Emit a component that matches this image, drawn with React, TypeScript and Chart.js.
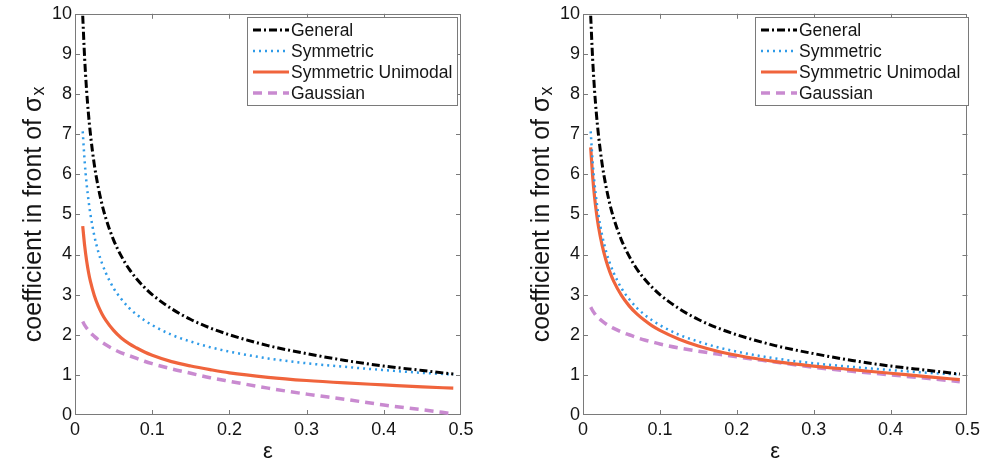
import React, { useEffect, useRef } from "react";
import { Chart, registerables } from "chart.js";

Chart.register(...registerables);

// ---------- data ----------
const EPS = [
  0.01, 0.0125, 0.015, 0.0175, 0.02, 0.025, 0.03, 0.035, 0.04, 0.05, 0.06, 0.07,
  0.08, 0.09, 0.1, 0.125, 0.15, 0.175, 0.2, 0.25, 0.3, 0.35, 0.4, 0.45, 0.49,
];
const GENERAL = [
  9.95, 8.89, 8.1, 7.49, 7.0, 6.24, 5.69, 5.25, 4.9, 4.36, 3.96, 3.64, 3.39,
  3.18, 3.0, 2.65, 2.38, 2.17, 2.0, 1.73, 1.53, 1.36, 1.22, 1.11, 1.02,
];
const SYMMETRIC = [
  7.07, 6.32, 5.77, 5.35, 5.0, 4.47, 4.08, 3.78, 3.54, 3.16, 2.89, 2.67, 2.5,
  2.36, 2.24, 2.0, 1.83, 1.69, 1.58, 1.41, 1.29, 1.2, 1.12, 1.05, 1.01,
];
const UNIMODAL_LEFT = [
  4.71, 4.22, 3.85, 3.56, 3.33, 2.98, 2.72, 2.52, 2.36, 2.11, 1.92, 1.78, 1.67,
  1.57, 1.49, 1.33, 1.22, 1.13, 1.05, 0.94, 0.86, 0.8, 0.75, 0.7, 0.67,
];
const GAUSSIAN_LEFT = [
  2.33, 2.24, 2.17, 2.11, 2.05, 1.96, 1.88, 1.81, 1.75, 1.64, 1.55, 1.48, 1.41,
  1.34, 1.28, 1.15, 1.04, 0.93, 0.84, 0.67, 0.52, 0.39, 0.25, 0.13, 0.03,
];
const UNIMODAL_RIGHT = [
  6.67, 5.96, 5.44, 5.04, 4.71, 4.22, 3.85, 3.56, 3.33, 2.98, 2.72, 2.52, 2.36,
  2.22, 2.11, 1.89, 1.72, 1.59, 1.49, 1.33, 1.22, 1.13, 1.04, 0.95, 0.88,
];
const GAUSSIAN_RIGHT = [
  2.69, 2.6, 2.53, 2.47, 2.42, 2.34, 2.27, 2.21, 2.16, 2.07, 2.0, 1.93, 1.87,
  1.82, 1.77, 1.67, 1.59, 1.52, 1.45, 1.32, 1.19, 1.09, 1.0, 0.91, 0.83,
];
const SERIES_NAMES = ["General", "Symmetric", "Symmetric Unimodal", "Gaussian"];
const X_TICKS = [0, 0.1, 0.2, 0.3, 0.4, 0.5];
const Y_TICKS = [0, 1, 2, 3, 4, 5, 6, 7, 8, 9, 10];
const X_TITLE = "ε";
const Y_TITLE = "coefficient in front of σ";
const Y_TITLE_SUB = "x";

// ---------- styles ----------
const FONT = '"Liberation Sans", Arial, Helvetica, sans-serif';
const FRAME = "#7a7a7a";
const TEXT = "#151515";
const STYLES = [
  { color: "#000000", width: 3, dash: [8, 3, 2, 3] },
  { color: "#2f9be8", width: 2.5, dash: [2, 4] },
  { color: "#f0643c", width: 3.2, dash: [] as number[] },
  { color: "#c98ad0", width: 3.5, dash: [9, 6] },
];

const H = 463;
const PLOT_TOP = 13;
const PLOT_BOTTOM = 415;

type PanelProps = {
  left: number;
  width: number;
  plotLeft: number;
  plotRight: number;
  legend: { x: number; y: number; w: number; h: number };
  series: number[][];
};

function Panel({ left, width, plotLeft, plotRight, legend, series }: PanelProps) {
  const ref = useRef<HTMLCanvasElement | null>(null);

  useEffect(() => {
    if (!ref.current) return;

    const framePlugin = {
      id: "frameTicks",
      beforeDatasetsDraw(chart: any) {
        const { ctx, chartArea } = chart;
        const { left: l, right: r, top: t, bottom: b } = chartArea;
        const xs = chart.scales.x;
        const ys = chart.scales.y;
        ctx.save();
        ctx.strokeStyle = FRAME;
        ctx.lineWidth = 1;
        ctx.strokeRect(Math.round(l) + 0.5, Math.round(t) + 0.5, Math.round(r - l) - 1, Math.round(b - t) - 1);
        ctx.beginPath();
        const tl = 5;
        X_TICKS.slice(1, -1).forEach((v) => {
          const px = Math.round(xs.getPixelForValue(v)) + 0.5;
          ctx.moveTo(px, b);
          ctx.lineTo(px, b - tl);
          ctx.moveTo(px, t);
          ctx.lineTo(px, t + tl);
        });
        Y_TICKS.slice(1, -1).forEach((v) => {
          const py = Math.round(ys.getPixelForValue(v)) + 0.5;
          ctx.moveTo(l, py);
          ctx.lineTo(l + tl, py);
          ctx.moveTo(r, py);
          ctx.lineTo(r - tl, py);
        });
        ctx.stroke();
        ctx.restore();
      },
    };

    const legendPlugin = {
      id: "boxLegend",
      afterDatasetsDraw(chart: any) {
        const { ctx } = chart;
        ctx.save();
        ctx.fillStyle = "#ffffff";
        ctx.fillRect(legend.x, legend.y, legend.w, legend.h);
        ctx.strokeStyle = FRAME;
        ctx.lineWidth = 1;
        ctx.strokeRect(legend.x + 0.5, legend.y + 0.5, legend.w, legend.h);
        ctx.font = `17.5px ${FONT}`;
        ctx.textBaseline = "alphabetic";
        ctx.textAlign = "left";
        SERIES_NAMES.forEach((name, i) => {
          const cy = legend.y + 13 + i * 21;
          const st = STYLES[i];
          ctx.beginPath();
          ctx.setLineDash(st.dash);
          ctx.strokeStyle = st.color;
          ctx.lineWidth = st.width;
          ctx.moveTo(legend.x + 6, cy);
          ctx.lineTo(legend.x + 42, cy);
          ctx.stroke();
          ctx.setLineDash([]);
          ctx.fillStyle = TEXT;
          ctx.fillText(name, legend.x + 44, cy + 6.3);
        });
        ctx.restore();
      },
    };

    const yTitlePlugin = {
      id: "yTitleSub",
      afterDraw(chart: any) {
        const { ctx, chartArea } = chart;
        const cy = (chartArea.top + chartArea.bottom) / 2;
        const bx = chartArea.left - 34;
        ctx.save();
        ctx.translate(bx, cy);
        ctx.rotate(-Math.PI / 2);
        ctx.fillStyle = TEXT;
        ctx.textBaseline = "alphabetic";
        ctx.textAlign = "left";
        const mainFont = `25px ${FONT}`;
        const subFont = `18px ${FONT}`;
        ctx.font = mainFont;
        const w1 = ctx.measureText(Y_TITLE).width;
        ctx.font = subFont;
        const w2 = ctx.measureText(Y_TITLE_SUB).width;
        const start = -(w1 + w2 + 1) / 2;
        ctx.font = mainFont;
        ctx.fillText(Y_TITLE, start, 0);
        ctx.font = subFont;
        ctx.fillText(Y_TITLE_SUB, start + w1 + 1, 3);
        ctx.restore();
      },
    };

    const datasets = SERIES_NAMES.map((name, i) => ({
      label: name,
      data: EPS.map((e, k) => ({ x: e, y: series[i][k] })),
      borderColor: STYLES[i].color,
      backgroundColor: STYLES[i].color,
      borderWidth: STYLES[i].width,
      borderDash: STYLES[i].dash,
      pointRadius: 0,
      fill: false,
      cubicInterpolationMode: "monotone" as const,
    }));

    const chart = new Chart(ref.current, {
      type: "line",
      data: { datasets },
      plugins: [framePlugin, legendPlugin, yTitlePlugin],
      options: {
        animation: false,
        responsive: false,
        maintainAspectRatio: false,
        layout: { padding: { left: 0, right: width - plotRight, top: PLOT_TOP, bottom: 0 } },
        plugins: { legend: { display: false }, tooltip: { enabled: false } },
        scales: {
          x: {
            type: "linear",
            min: 0,
            max: 0.5,
            afterBuildTicks: (s: any) => {
              s.ticks = X_TICKS.map((v) => ({ value: v }));
            },
            afterFit: (s: any) => {
              s.height = H - PLOT_BOTTOM;
            },
            grid: { display: false, drawTicks: false },
            border: { display: false },
            ticks: {
              color: TEXT,
              font: { family: FONT, size: 18 },
              padding: 4,
              maxRotation: 0,
              autoSkip: false,
              callback: (v: any) => String(v),
            },
            title: {
              display: true,
              text: X_TITLE,
              color: TEXT,
              font: { family: FONT, size: 22, lineHeight: 1 },
              padding: { top: 0, bottom: 0 },
            },
          },
          y: {
            type: "linear",
            min: 0,
            max: 10,
            afterBuildTicks: (s: any) => {
              s.ticks = Y_TICKS.map((v) => ({ value: v }));
            },
            afterFit: (s: any) => {
              s.width = plotLeft;
            },
            grid: { display: false, drawTicks: false },
            border: { display: false },
            ticks: {
              color: TEXT,
              font: { family: FONT, size: 18 },
              padding: 3,
              autoSkip: false,
              callback: (v: any) => String(v),
            },
            title: { display: false },
          },
        },
      },
    });

    return () => chart.destroy();
  }, []);

  return (
    <canvas
      ref={ref}
      width={width}
      height={H}
      style={{ position: "absolute", left, top: 0, width, height: H }}
    />
  );
}

export default function App() {
  return (
    <div style={{ position: "fixed", left: 0, top: 0, width: 984, height: H, background: "#ffffff" }}>
      <Panel
        left={0}
        width={484}
        plotLeft={75}
        plotRight={461}
        legend={{ x: 247, y: 17, w: 210, h: 88 }}
        series={[GENERAL, SYMMETRIC, UNIMODAL_LEFT, GAUSSIAN_LEFT]}
      />
      <Panel
        left={500}
        width={484}
        plotLeft={83}
        plotRight={470}
        legend={{ x: 255, y: 17, w: 213, h: 88 }}
        series={[GENERAL, SYMMETRIC, UNIMODAL_RIGHT, GAUSSIAN_RIGHT]}
      />
    </div>
  );
}
